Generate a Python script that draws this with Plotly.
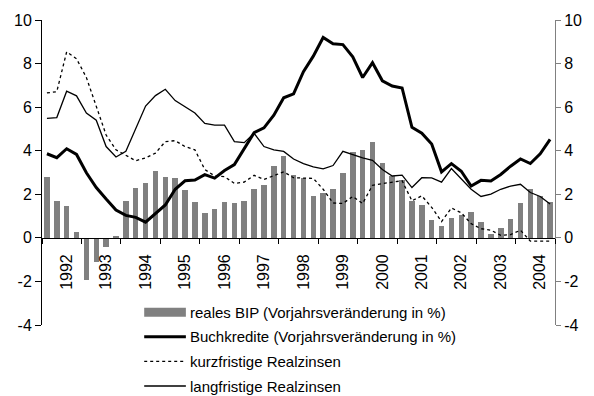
import plotly.graph_objects as go

# Quarterly observations, 1991 Q3 to 2004 Q2
quarters = [f"{y}Q{q}" for y in range(1991, 2005) for q in range(1, 5)][2:54]

# real GDP, year-on-year change in %
bip = [2.79, 1.69, 1.45, 0.27, -1.95, -1.12, -0.44, 0.09, 1.70, 2.28,
       2.53, 3.08, 2.81, 2.73, 2.20, 1.64, 1.16, 1.33, 1.66, 1.58,
       1.70, 2.26, 2.44, 3.30, 3.74, 2.88, 2.76, 1.93, 2.04, 2.25,
       2.97, 3.94, 4.03, 4.39, 3.45, 2.84, 2.65, 1.67, 1.51, 0.80,
       0.53, 0.90, 1.03, 1.18, 0.72, 0.18, 0.44, 0.86, 1.58, 2.25,
       1.93, 1.63]

# book credit, year-on-year change in %
kredite = [3.86, 3.68, 4.09, 3.83, 2.99, 2.31, 1.78, 1.28, 1.03, 0.94,
           0.72, 1.10, 1.51, 2.23, 2.62, 2.65, 2.90, 2.74, 3.09, 3.36,
           4.10, 4.83, 5.05, 5.63, 6.43, 6.61, 7.63, 8.34, 9.20, 8.91,
           8.87, 8.31, 7.36, 8.04, 7.21, 6.97, 6.88, 5.07, 4.80, 4.31,
           3.03, 3.41, 3.06, 2.38, 2.64, 2.61, 2.91, 3.29, 3.62, 3.41,
           3.86, 4.52]

# short-term real interest rates
kurz = [6.65, 6.71, 8.54, 8.22, 7.36, 6.00, 4.72, 4.04, 3.77, 3.54,
        3.67, 3.89, 4.42, 4.46, 4.19, 4.04, 3.14, 2.84, 2.81, 2.50,
        2.56, 2.87, 2.68, 2.87, 3.03, 2.76, 2.74, 2.73, 2.23, 1.60,
        1.58, 1.90, 1.58, 2.41, 2.49, 2.56, 2.62, 1.70, 1.93, 1.40,
        0.75, 1.37, 1.15, 0.65, 0.42, 0.35, 0.12, 0.15, 0.35, -0.15,
        -0.15, -0.15]

# long-term real interest rates
lang = [5.48, 5.52, 6.73, 6.52, 5.73, 5.40, 4.19, 3.71, 3.97, 5.02,
        6.05, 6.53, 6.82, 6.30, 6.03, 5.73, 5.25, 5.17, 5.17, 4.42,
        4.37, 4.80, 4.19, 4.04, 3.97, 3.62, 3.41, 3.26, 3.17, 3.32,
        3.97, 3.82, 3.67, 3.56, 3.14, 2.84, 2.88, 2.31, 2.76, 2.75,
        2.56, 3.18, 2.68, 2.23, 1.90, 2.01, 2.23, 2.38, 2.46, 2.08,
        1.90, 1.55]

year_labels = [str(y) for y in range(1992, 2005)]
label_quarters = [f"{y}Q1" for y in year_labels]

y_tickvals = [-4, -2, 0, 2, 4, 6, 8, 10]
y_ticktext = ["-4", "-2", "0", "2", "4", "6", "8", "10"]

legend_names = [
    "reales BIP (Vorjahrsveränderung in %)",
    "Buchkredite (Vorjahrsveränderung in %)",
    "kurzfristige Realzinsen",
    "langfristige Realzinsen",
]

FONT = "Liberation Sans, Arial, sans-serif"
GREY = "#808080"

x = list(range(len(quarters)))
tickvals = [quarters.index(q) for q in label_quarters]

fig = go.Figure()
fig.add_trace(go.Bar(x=x, y=bip, width=0.56, marker=dict(color=GREY, line=dict(width=0)),
                     name=legend_names[0], customdata=quarters, showlegend=False))
fig.add_trace(go.Scatter(x=x, y=kurz, mode="lines", name=legend_names[2],
                         line=dict(color="black", width=1.3, dash="3px,3px"), showlegend=False))
fig.add_trace(go.Scatter(x=x, y=lang, mode="lines", name=legend_names[3],
                         line=dict(color="black", width=1.3), showlegend=False))
fig.add_trace(go.Scatter(x=x, y=kredite, mode="lines", name=legend_names[1],
                         line=dict(color="black", width=3), showlegend=False))
# invisible trace carrying the right-hand axis
fig.add_trace(go.Scatter(x=[x[0]], y=[0], yaxis="y2", mode="markers",
                         marker=dict(opacity=0), showlegend=False, hoverinfo="skip"))

W, H = 594, 396
ML, MR, MT, MB = 42, 35, 15, 71
PW, PH = W - ML - MR, H - MT - MB


def px_x(p):
    return (p - ML) / PW


def px_y(p):
    return (H - MB - p) / PH


fig.update_layout(
    width=W, height=H,
    margin=dict(l=ML, r=MR, t=MT, b=MB),
    paper_bgcolor="white", plot_bgcolor="white",
    font=dict(family=FONT, size=16, color="black"),
    bargap=0,
    xaxis=dict(
        range=[-0.5, len(x) - 0.5],
        anchor="free", position=4 / 14,
        showline=True, linecolor="black", linewidth=1,
        showgrid=False, zeroline=False,
        tickmode="array", tickvals=tickvals, ticktext=year_labels,
        tickangle=-90, ticks="outside", ticklen=9, tickcolor="rgba(0,0,0,0)",
        tickfont=dict(size=16),
        minor=dict(ticks="outside", tick0=3.5, dtick=4, ticklen=5,
                   tickcolor="black", tickwidth=1, showgrid=False),
    ),
    yaxis=dict(
        range=[-4, 10], tickmode="array", tickvals=y_tickvals, ticktext=y_ticktext,
        showgrid=False, zeroline=False,
        showline=True, linecolor="black", linewidth=1,
        ticks="outside", ticklen=6, tickcolor="black",
        tickfont=dict(size=16),
    ),
    yaxis2=dict(
        range=[-4, 10], tickmode="array", tickvals=y_tickvals, ticktext=y_ticktext,
        overlaying="y", side="right",
        showgrid=False, zeroline=False,
        showline=True, linecolor=GREY, linewidth=1,
        ticks="outside", ticklen=5, tickcolor=GREY,
        tickfont=dict(size=16),
    ),
    showlegend=False,
)

# legend drawn beneath the zero line
rows = [312, 337, 362, 387]
sw0, sw1, tx = 145, 187, 189
fig.add_shape(type="rect", xref="paper", yref="paper",
              x0=px_x(sw0), x1=px_x(sw1), y0=px_y(rows[0] + 4.5), y1=px_y(rows[0] - 4.5),
              fillcolor=GREY, line=dict(width=0))
for r, (w, d) in zip(rows[1:], [(3, "solid"), (1.3, "3px,3px"), (1.3, "solid")]):
    fig.add_shape(type="line", xref="paper", yref="paper",
                  x0=px_x(sw0), x1=px_x(sw1), y0=px_y(r), y1=px_y(r),
                  line=dict(color="black", width=w, dash=d))
for r, name in zip(rows, legend_names):
    fig.add_annotation(xref="paper", yref="paper", x=px_x(tx), y=px_y(r),
                       text=name, showarrow=False, xanchor="left", yanchor="middle",
                       font=dict(size=15, family=FONT, color="black"))

fig.write_html("out.html")
